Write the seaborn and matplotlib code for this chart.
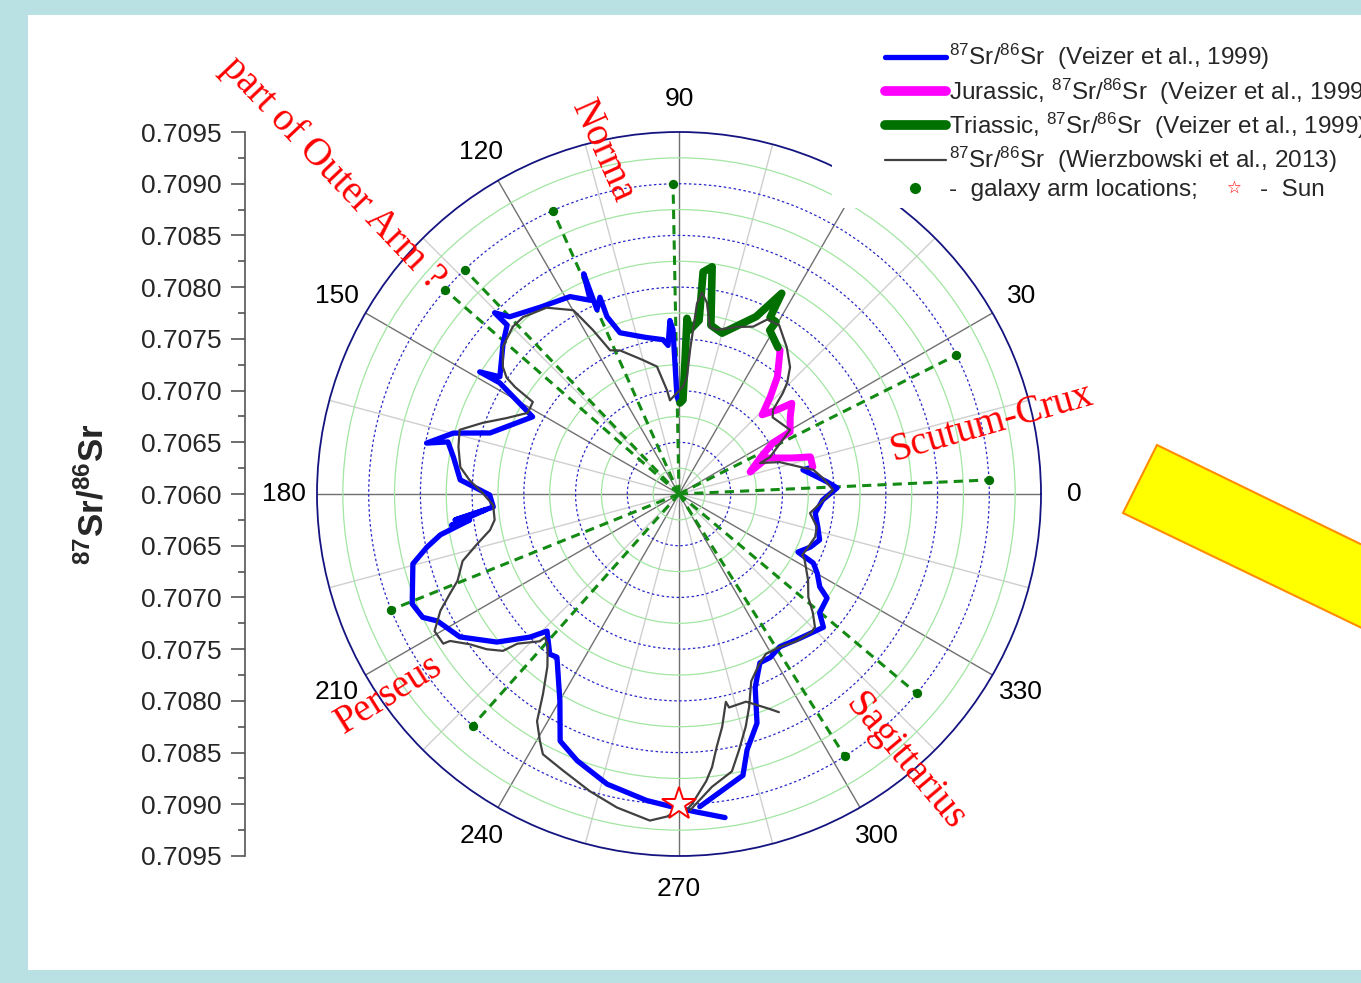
import numpy as np
import pandas as pd
import matplotlib
matplotlib.use("Agg")
import matplotlib.pyplot as plt
import seaborn as sns
from matplotlib.lines import Line2D
from matplotlib.patches import Rectangle, Polygon
from matplotlib.ticker import MultipleLocator, FuncFormatter

# ---------------------------------------------------------------------------
# Data: polar angle (degrees) and 87Sr/86Sr ratio
# ---------------------------------------------------------------------------
# Veizer et al. (1999), younger part (Cenozoic - Cretaceous)
vz_young_deg = [273.8, 282.8, 284.9, 288.8, 291.5, 295.6, 299.2, 303.4, 310.0, 317.3,
                319.8, 324.9, 326.6, 330.2, 332.8, 334.0, 338.0, 341.9, 346.6, 352.0,
                357.6, 2.2, 4.6, 8.1, 11.0]
vz_young_sr = [0.70903, 0.70879, 0.70856, 0.70834, 0.70801, 0.70781, 0.70781, 0.70777, 0.70782, 0.70790,
               0.70778, 0.70775, 0.70763, 0.70754, 0.70746, 0.70728, 0.70737, 0.70743, 0.70738, 0.70733,
               0.70739, 0.70753, 0.70744, 0.70731, 0.70722]

# Jurassic part of the Veizer et al. (1999) curve
jur_deg = [11.4, 15.8, 17.5, 22.2, 17.2, 24.0, 28.5, 29.2, 34.8, 38.8,
           40.6, 43.6, 46.8, 50.0, 54.9, 56.0]
jur_sr = [0.70732, 0.70732, 0.70716, 0.70692, 0.70672, 0.70686, 0.70703, 0.70723, 0.70731, 0.70740,
          0.70725, 0.70711, 0.70729, 0.70748, 0.70770, 0.70771]

# Triassic part of the Veizer et al. (1999) curve
tri_deg = [56.0, 61.0, 60.6, 62.7, 62.9, 66.5, 75.0, 79.3, 81.7, 83.8,
           83.4, 86.2, 87.4, 87.4, 87.6, 89.4]
tri_sr = [0.70771, 0.70781, 0.70791, 0.70792, 0.70818, 0.70787, 0.70761, 0.70766, 0.70822, 0.70816,
          0.70769, 0.70759, 0.70770, 0.70730, 0.70691, 0.70688]

# Veizer et al. (1999), older part (Permian - Cambrian)
vz_old_deg = [91.2, 92.1, 93.0, 94.2, 95.9, 102.2, 110.1, 112.1, 111.9, 114.0,
              113.4, 114.6, 118.9, 126.6, 133.7, 135.5, 135.5, 139.4, 146.8, 148.5,
              148.2, 152.2, 162.1, 164.9, 168.6, 167.3, 170.7, 176.3, 180.3, 184.0,
              186.6, 184.7, 187.8, 187.1, 189.7, 191.9, 194.7, 202.4, 205.7, 207.7,
              213.1, 219.1, 223.8, 226.1, 231.1, 233.2, 240.1, 244.3, 249.1, 256.1,
              264.0, 268.3, 273.2, 278.1]
vz_old_sr = [0.70694, 0.70759, 0.70768, 0.70744, 0.70750, 0.70755, 0.70766, 0.70785, 0.70805, 0.70795,
             0.70832, 0.70806, 0.70818, 0.70825, 0.70837, 0.70850, 0.70833, 0.70824, 0.70807, 0.70826,
             0.70804, 0.70760, 0.70792, 0.70826, 0.70849, 0.70829, 0.70821, 0.70812, 0.70783, 0.70780,
             0.70818, 0.70788, 0.70822, 0.70804, 0.70834, 0.70849, 0.70866, 0.70879, 0.70875, 0.70864,
             0.70853, 0.70827, 0.70800, 0.70784, 0.70799, 0.70797, 0.70831, 0.70865, 0.70876, 0.70889,
             0.70898, 0.70902, 0.70908, 0.70916]

# Wierzbowski et al. (2013)
wz_deg = [272.0, 276.4, 280.8, 283.1, 286.0, 288.2, 291.1, 295.2, 298.5, 303.2,
          308.5, 313.9, 315.6, 318.4, 321.4, 326.3, 332.4, 333.6, 337.7, 342.5,
          346.6, 351.7, 356.3, 1.5, 6.3, 10.2, 12.6, 17.6, 20.9, 22.1,
          30.0, 39.3, 41.8, 44.2, 45.8, 48.8, 53.7, 59.4, 63.2, 66.1,
          70.8, 77.0, 79.5, 81.7, 83.5, 84.6, 85.6, 86.1, 87.9, 93.5,
          95.5, 96.6, 99.8, 105.0, 112.3, 115.6, 117.7, 119.2, 119.9, 125.4,
          131.4, 134.8, 140.1, 144.2, 146.0, 146.9, 147.8, 151.8, 156.2, 160.1,
          163.7, 168.0, 173.0, 176.2, 179.7, 183.4, 188.0, 190.8, 193.9, 197.2,
          201.4, 203.6, 206.1, 209.3, 212.4, 212.7, 215.7, 218.9, 221.7, 222.8,
          226.6, 226.9, 228.9, 232.7, 235.8, 238.0, 240.6, 242.4, 247.3, 253.3,
          258.8, 264.9, 267.9, 269.6, 271.5, 272.4, 275.4, 276.9, 278.5, 280.5,
          282.7, 283.2, 287.9, 292.7, 294.6]
wz_sr = [0.70906, 0.70885, 0.70873, 0.70855, 0.70834, 0.70817, 0.70794, 0.70782, 0.70776, 0.70777,
         0.70782, 0.70785, 0.70784, 0.70773, 0.70760, 0.70750, 0.70737, 0.70733, 0.70735, 0.70738,
         0.70737, 0.70728, 0.70737, 0.70749, 0.70740, 0.70732, 0.70720, 0.70702, 0.70684, 0.70695,
         0.70724, 0.70717, 0.70722, 0.70740, 0.70750, 0.70763, 0.70776, 0.70790, 0.70789, 0.70777,
         0.70771, 0.70763, 0.70764, 0.70787, 0.70796, 0.70785, 0.70740, 0.70713, 0.70704, 0.70694,
         0.70691, 0.70701, 0.70725, 0.70734, 0.70750, 0.70754, 0.70779, 0.70796, 0.70805, 0.70821,
         0.70828, 0.70828, 0.70822, 0.70810, 0.70801, 0.70789, 0.70767, 0.70766, 0.70782, 0.70802,
         0.70821, 0.70818, 0.70813, 0.70803, 0.70790, 0.70780, 0.70780, 0.70786, 0.70801, 0.70819,
         0.70830, 0.70842, 0.70857, 0.70871, 0.70870, 0.70863, 0.70849, 0.70839, 0.70828, 0.70813,
         0.70796, 0.70790, 0.70793, 0.70810, 0.70834, 0.70859, 0.70874, 0.70884, 0.70890, 0.70900,
         0.70909, 0.70917, 0.70912, 0.70906, 0.70905, 0.70900, 0.70879, 0.70866, 0.70847, 0.70829,
         0.70806, 0.70812, 0.70811, 0.70825, 0.70832]

# Galaxy arm locations and the Sun
arm_deg = [2.6, 26.6, 91.1, 114.0, 133.7, 138.9, 201.9, 228.3, 302.3, 320.0]
arm_sr = [0.709] * len(arm_deg)
sun_deg = [270.0]
sun_sr = [0.709]

# Radial scale: centre of the polar plot and outer circle
r_center, r_outer = 0.7060, 0.7095
theta_ticks = list(range(0, 360, 15))

# Arm names: (text, x px, y px, rotation)
arm_names = [
    ("Scutum-Crux", 991, 423, 16),
    ("Sagittarius", 905, 762, -50),
    ("Perseus", 389, 695, 32),
    ("Norma", 603, 151, -66),
    ("part of Outer Arm ?", 333, 173, -46.5),
]

# ---------------------------------------------------------------------------
W, H = 1361, 983
sns.set_theme(style="white")
plt.rcParams["font.family"] = ["Liberation Sans", "DejaVu Sans"]
plt.rcParams["mathtext.fontset"] = "custom"
plt.rcParams["mathtext.rm"] = "Liberation Sans"
plt.rcParams["mathtext.bf"] = "Liberation Sans:bold"
plt.rcParams["mathtext.default"] = "regular"


def fx(px):
    return px / W


def fy(py):
    return 1 - py / H


fig = plt.figure(figsize=(W / 100, H / 100), dpi=100, facecolor="#b9e0e3")
fig.add_artist(Rectangle((fx(28), fy(970)), 1.0, fy(15) - fy(970),
                         transform=fig.transFigure, facecolor="white",
                         edgecolor="none", zorder=-10))

# ---------------------------------------------------------------------------
# Polar axes
ax = fig.add_axes([fx(317), fy(856), 724 / W, 724 / H], projection="polar")
ax.set_axisbelow(True)

blue_deg = np.concatenate([vz_young_deg, jur_deg, tri_deg, vz_old_deg])
blue_sr = np.concatenate([vz_young_sr, jur_sr, tri_sr, vz_old_sr])
to_theta = lambda d: np.unwrap(np.deg2rad(np.asarray(d, dtype=float)))

green_dark = "#007000"
arm_theta = np.deg2rad(arm_deg)
ax.vlines(arm_theta, r_center, arm_sr, colors="#138a13",
          linestyles=(0, (3, 2)), linewidth=2.2, zorder=2)

sns.lineplot(x=to_theta(blue_deg), y=blue_sr, sort=False, estimator=None,
             color="#0000ff", linewidth=3.8, ax=ax, zorder=3,
             solid_joinstyle="round", solid_capstyle="round")
sns.lineplot(x=to_theta(jur_deg), y=jur_sr, sort=False, estimator=None,
             color="#ff00ff", linewidth=5.0, ax=ax, zorder=4,
             solid_joinstyle="round", solid_capstyle="round")
sns.lineplot(x=to_theta(tri_deg), y=tri_sr, sort=False, estimator=None,
             color=green_dark, linewidth=5.5, ax=ax, zorder=4,
             solid_joinstyle="round", solid_capstyle="round")
sns.lineplot(x=to_theta(wz_deg), y=wz_sr, sort=False, estimator=None,
             color="#404040", linewidth=1.6, ax=ax, zorder=5)
sns.scatterplot(x=arm_theta, y=arm_sr, color=green_dark, s=45,
                linewidth=0, ax=ax, zorder=6)
ax.plot(np.deg2rad(sun_deg), sun_sr, linestyle="none", marker="*",
        markersize=25, markerfacecolor="white", markeredgecolor="red",
        markeredgewidth=1.4, zorder=7)

ax.set_xlabel("")
ax.set_ylabel("")
ax.set_ylim(r_center, r_outer)

# circular grid: blue dotted every 0.0005, light green solid in between
r_grid = [r_center + 0.00025 * k for k in range(1, 14)]
ax.set_rticks(r_grid)
ax.set_yticklabels([])
ax.tick_params(axis="y", length=0)
ax.grid(True)
for k, gl in enumerate(ax.yaxis.get_gridlines(), start=1):
    if k % 2 == 0:
        gl.set(color="#2626c8", linestyle=(0, (2, 2)), linewidth=0.9)
    else:
        gl.set(color="#a2e6a2", linestyle="-", linewidth=0.9)

ax.set_thetagrids(theta_ticks, [str(a) if a % 30 == 0 else "" for a in theta_ticks])
for a, gl in zip(theta_ticks, ax.xaxis.get_gridlines()):
    gl.set(color="#707070" if a % 30 == 0 else "#cfcfcf", linestyle="-",
           linewidth=1.0)
ax.tick_params(axis="x", direction="in", length=7, width=1.0, color="#333333",
               pad=17, labelsize=19, labelcolor="black")
ax.spines["polar"].set(color="#141480", linewidth=1.3)

# ---------------------------------------------------------------------------
# Radial scale drawn as a separate vertical axis on the left
axr = fig.add_axes([fx(245), fy(856), 0.0001, 724 / H])
axr.set_ylim(-(r_outer - r_center), r_outer - r_center)
axr.set_xticks([])
axr.patch.set_visible(False)
for s in ["top", "right", "bottom"]:
    axr.spines[s].set_visible(False)
axr.spines["left"].set(color="#555555", linewidth=1.2)
axr.yaxis.set_major_locator(MultipleLocator(0.0005))
axr.yaxis.set_minor_locator(MultipleLocator(0.00025))
axr.yaxis.set_major_formatter(FuncFormatter(lambda v, p: f"{r_center + abs(v):.4f}"))
axr.tick_params(axis="y", which="major", direction="out", length=10, width=1.2,
                color="#555555", labelsize=19, pad=7, left=True)
axr.tick_params(axis="y", which="minor", direction="out", length=5, width=1.2,
                color="#555555", left=True)
axr.set_ylabel(r"$^{87}$Sr/$^{86}$Sr", fontsize=25, fontweight="bold", labelpad=22)

# ---------------------------------------------------------------------------
# Legend with a white background patch
fig.add_artist(Rectangle((fx(832), fy(208)), 1.0, fy(30) - fy(208),
                         transform=fig.transFigure, facecolor="white",
                         edgecolor="none", zorder=3))
handles = [
    Line2D([], [], color="#0000ff", linewidth=3.8),
    Line2D([], [], color="#ff00ff", linewidth=7, solid_capstyle="round"),
    Line2D([], [], color=green_dark, linewidth=7, solid_capstyle="round"),
    Line2D([], [], color="#404040", linewidth=1.6),
    Line2D([], [], linestyle="none", marker="o", markersize=7, color=green_dark),
]
labels = [
    r"$^{87}$Sr/$^{86}$Sr  (Veizer et al., 1999)",
    r"Jurassic, $^{87}$Sr/$^{86}$Sr  (Veizer et al., 1999)",
    r"Triassic, $^{87}$Sr/$^{86}$Sr  (Veizer et al., 1999)",
    r"$^{87}$Sr/$^{86}$Sr  (Wierzbowski et al., 2013)",
    "-  galaxy arm locations;",
]
leg = fig.legend(handles, labels, loc="upper left", bbox_to_anchor=(fx(885), fy(42)),
                 frameon=False, fontsize=17.5, handlelength=2.5, handletextpad=0.15,
                 labelspacing=0.17, borderpad=0, borderaxespad=0)
leg.set_zorder(5)

# Sun symbol continues the last legend row, on the same baseline
fig.canvas.draw()
last = leg.get_texts()[-1]
bx, by = last.get_transform().transform(last.get_position())
ext = last.get_window_extent()
fs_px = 17.5 * fig.dpi / 72
fig.text((ext.x1 + 36) / fig.bbox.width, (by + 0.33 * fs_px) / fig.bbox.height,
         "\u2606", color="red", fontsize=12, ha="center", va="center", zorder=6)
fig.text((ext.x1 + 62) / fig.bbox.width, by / fig.bbox.height, "-  Sun",
         fontsize=17.5, ha="left", va="baseline", zorder=6)

# ---------------------------------------------------------------------------
# Arm names
for text, x, y, rot in arm_names:
    fig.text(fx(x), fy(y), text, color="red", fontsize=28, family="Liberation Serif",
             rotation=rot, rotation_mode="anchor", ha="center", va="center")

# Direction marker on the right
fig.add_artist(Polygon([(fx(1157), fy(445)), (fx(1123), fy(513)),
                        (fx(1420), fy(656)), (fx(1420), fy(573))],
                       closed=True, transform=fig.transFigure,
                       facecolor="#ffff00", edgecolor="#ff8c00", linewidth=1.5,
                       zorder=2))

fig.savefig("out.png", dpi=100, facecolor=fig.get_facecolor())
